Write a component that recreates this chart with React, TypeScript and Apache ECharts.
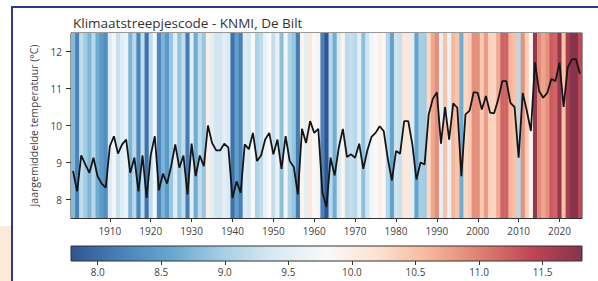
import React, { useEffect, useRef } from "react";
import * as echarts from "echarts";

const firstYear = 1901;
const temps = [
  8.77, 8.22, 9.19, 8.95, 8.72, 9.13, 8.63, 8.43, 8.32, 9.44,
  9.71, 9.24, 9.49, 9.62, 8.72, 9.13, 8.22, 9.19, 8.04, 9.2,
  9.71, 8.25, 8.7, 8.43, 8.9, 9.49, 8.86, 9.19, 8.14, 9.51,
  8.63, 9.19, 8.9, 10.0, 9.53, 9.33, 9.33, 9.51, 9.4, 8.04,
  8.49, 8.18, 9.49, 9.36, 9.8, 9.04, 9.19, 9.62, 9.8, 9.22,
  9.62, 8.83, 9.71, 9.04, 8.88, 8.14, 9.91, 9.53, 10.12, 9.8,
  9.91, 8.18, 7.8, 9.13, 8.65, 9.4, 9.91, 9.15, 9.22, 9.13,
  9.51, 8.83, 9.33, 9.69, 9.8, 9.98, 9.85, 9.1, 8.52, 9.31,
  9.24, 10.12, 10.12, 9.49, 8.54, 9.0, 8.95, 10.3, 10.72, 10.9,
  9.51, 10.5, 9.62, 10.6, 10.48, 8.63, 10.3, 10.4, 10.9, 10.88,
  10.43, 10.8, 10.35, 10.33, 10.7, 11.2, 11.2, 10.61, 10.5, 9.13,
  10.88, 10.4, 9.85, 11.71, 10.93, 10.75, 10.88, 11.26, 11.2, 11.7,
  10.5, 11.57, 11.78, 11.8, 11.4,
];
const years = temps.map((_, i) => firstYear + i);

const yTicks = [8, 9, 10, 11, 12];
const xTicks = [1910, 1920, 1930, 1940, 1950, 1960, 1970, 1980, 1990, 2000, 2010, 2020];
const barTicks = [8.0, 8.5, 9.0, 9.5, 10.0, 10.5, 11.0, 11.5];
const colorMin = 7.79;
const colorMax = 11.81;
const cmap = [
  "#2e5590", "#4a82bb", "#69a9cf", "#a8d0e5", "#daeaf3", "#f9f9f9",
  "#fde2d2", "#f6b79b", "#de8071", "#c14655", "#85334c",
];

const FONT = "'Open Sans', 'Noto Sans', sans-serif";

export default function App() {
  const ref = useRef<HTMLDivElement>(null);
  useEffect(() => {
    if (!ref.current) return;
    const chart = echarts.init(ref.current, undefined, { renderer: "svg" });
    const pts = years.map((y, i) => [y, temps[i]]);
    const gradStops = cmap.map((c, i) => ({ offset: i / (cmap.length - 1), color: c }));
    chart.setOption({
      animation: false,
      backgroundColor: "#ffffff",
      textStyle: { fontFamily: FONT },
      title: {
        text: "Klimaatstreepjescode - KNMI, De Bilt",
        left: 68,
        top: 11,
        textStyle: { fontSize: 13.5, fontWeight: "normal", color: "#333", fontFamily: FONT },
      },
      graphic: [
        { type: "rect", left: 0, top: 226, shape: { width: 11, height: 55 }, style: { fill: "#fde9da" }, silent: true },
        { type: "line", shape: { x1: 12, y1: 7, x2: 598, y2: 7 }, style: { stroke: "#2b3a8c", lineWidth: 2 }, silent: true },
        { type: "line", shape: { x1: 12, y1: 6, x2: 12, y2: 281 }, style: { stroke: "#2b3a8c", lineWidth: 2 }, silent: true },
      ],
      visualMap: {
        show: false,
        type: "continuous",
        seriesIndex: 0,
        dimension: 1,
        min: colorMin,
        max: colorMax,
        inRange: { color: cmap },
      },
      grid: [
        { left: 71, top: 33, width: 511, height: 185, show: true, borderColor: "#333", borderWidth: 1, backgroundColor: "transparent" },
        { left: 71, top: 246, width: 511, height: 15 },
      ],
      xAxis: [
        {
          type: "value",
          gridIndex: 0,
          min: 1900.5,
          max: 2025.5,
          axisLine: { show: true, lineStyle: { color: "#333", width: 1 } },
          axisTick: { show: true, customValues: xTicks, length: 4, lineStyle: { color: "#333" } },
          axisLabel: { customValues: xTicks, formatter: (v: number) => String(v), fontSize: 10, color: "#444", margin: 8 },
          splitLine: { show: false },
        },
        {
          type: "value",
          gridIndex: 1,
          min: colorMin,
          max: colorMax,
          axisLine: { show: false },
          axisTick: { show: true, customValues: barTicks, length: 4, lineStyle: { color: "#333" } },
          axisLabel: { customValues: barTicks, formatter: (v: number) => v.toFixed(1), fontSize: 10, color: "#444", margin: 6 },
          splitLine: { show: false },
        },
      ],
      yAxis: [
        {
          type: "value",
          gridIndex: 0,
          min: 7.5,
          max: 12.5,
          name: "Jaargemiddelde temperatuur (°C)",
          nameLocation: "middle",
          nameGap: 30,
          nameTextStyle: { fontSize: 10.5, color: "#444", fontFamily: FONT },
          axisLine: { show: true, lineStyle: { color: "#333", width: 1 } },
          axisTick: { show: true, customValues: yTicks, length: 5, lineStyle: { color: "#333" } },
          axisLabel: { customValues: yTicks, formatter: (v: number) => String(v), fontSize: 10, color: "#444", margin: 9 },
          splitLine: { show: false },
        },
        { type: "value", gridIndex: 1, min: 0, max: 1, show: false },
      ],
      series: [
        {
          type: "custom",
          xAxisIndex: 0,
          yAxisIndex: 0,
          data: pts,
          encode: { x: 0, y: 1 },
          clip: true,
          z: 1,
          renderItem: (params: any, api: any) => {
            const yr = api.value(0);
            const a = api.coord([yr - 0.5, 12.5]);
            const b = api.coord([yr + 0.5, 7.5]);
            return {
              type: "rect",
              shape: { x: a[0], y: a[1], width: b[0] - a[0] + 0.5, height: b[1] - a[1] },
              style: { fill: api.visual("color") },
            };
          },
        },
        {
          type: "line",
          xAxisIndex: 0,
          yAxisIndex: 0,
          data: pts,
          showSymbol: false,
          symbol: "none",
          lineStyle: { color: "#151515", width: 1.8 },
          z: 5,
        },
        {
          type: "custom",
          xAxisIndex: 1,
          yAxisIndex: 1,
          data: [[colorMin, colorMax]],
          renderItem: (params: any, api: any) => {
            const a = api.coord([api.value(0), 1]);
            const b = api.coord([api.value(1), 0]);
            return {
              type: "rect",
              shape: { x: a[0], y: a[1], width: b[0] - a[0], height: b[1] - a[1] },
              style: {
                fill: new echarts.graphic.LinearGradient(0, 0, 1, 0, gradStops),
                stroke: "#333",
                lineWidth: 1,
              },
            };
          },
        },
      ],
    });
    return () => chart.dispose();
  }, []);
  return <div ref={ref} style={{ position: "fixed", left: 0, top: 0, width: 598, height: 281 }} />;
}
